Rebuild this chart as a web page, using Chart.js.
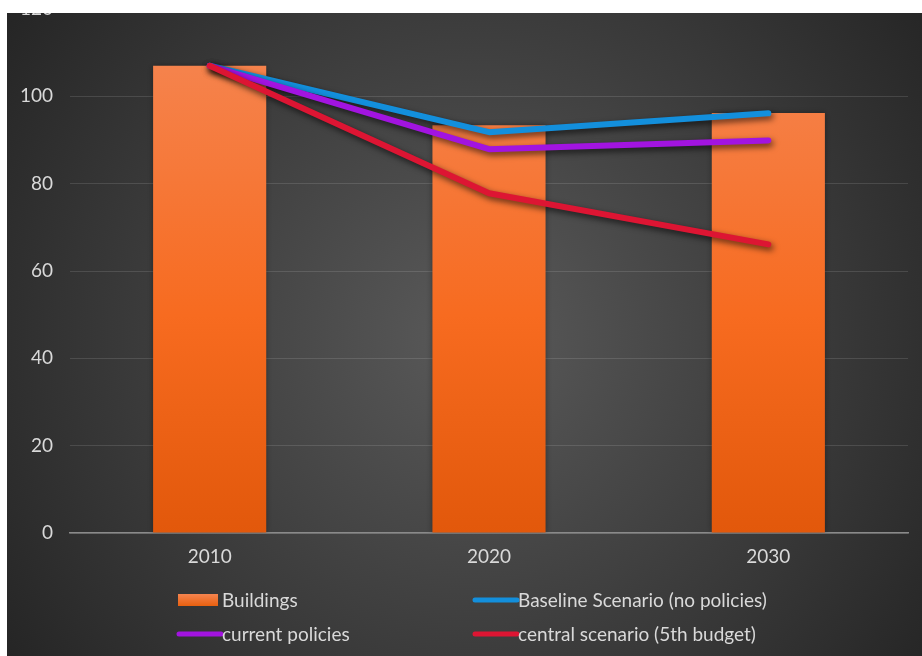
<!DOCTYPE html>
<html>
<head>
<meta charset="utf-8">
<script src="https://cdn.jsdelivr.net/npm/chart.js@4"></script>
<style>
    html, body { margin: 0; padding: 0; background: #fff; overflow: hidden; }
    #wrap { position: relative; width: 922px; height: 656px; overflow: hidden; }
    #chart { position: absolute; left: 7px; top: -27px; }
    #topband { position: absolute; left: 0; top: 0; width: 922px; height: 13px; background: #fff; }
</style>
</head>
<body>
<div id="wrap">
    <canvas id="chart" width="915" height="683"></canvas>
    <div id="topband"></div>
</div>
<script>
const years = ["2010", "2020", "2030"]
const buildings = [107, 93.4, 96.2]
const baseline = [107, 91.8, 96.1]
const currentPolicies = [107, 87.9, 89.9]
const centralScenario = [107, 77.8, 66.1]

const textColor = "#d9d9d9"
const fontFamily = "Lato, 'Open Sans', sans-serif"
const fontSize = 19

function barGradient(ctx, area) {
    let g = ctx.createLinearGradient(0, area.top + 40, 0, area.bottom)
    g.addColorStop(0, "#f5844f")
    g.addColorStop(0.55, "#f76b20")
    g.addColorStop(1, "#e2580b")
    return g
}

// dark radial backdrop behind everything
const backdrop = {
    id: "backdrop",
    beforeDraw(chart) {
        const ctx = chart.ctx
        const w = chart.width, h = chart.height
        let g = ctx.createRadialGradient(w * 0.51, h * 0.53, 0, w * 0.51, h * 0.53, w * 0.62)
        g.addColorStop(0, "#5a5a5a")
        g.addColorStop(1, "#252525")
        ctx.save()
        ctx.fillStyle = g
        ctx.fillRect(0, 0, w, h)
        ctx.restore()
    }
}

// soft drop shadow under the scenario lines
const lineShadow = {
    id: "lineShadow",
    beforeDatasetDraw(chart, args) {
        const ctx = chart.ctx
        ctx.save()
        if (args.meta.type === "line") {
            ctx.shadowColor = "rgba(0,0,0,0.65)"
            ctx.shadowBlur = 6
            ctx.shadowOffsetX = 2
            ctx.shadowOffsetY = 3
        } else {
            ctx.shadowColor = "rgba(0,0,0,0.35)"
            ctx.shadowBlur = 6
        }
    },
    afterDatasetDraw(chart) {
        chart.ctx.restore()
    }
}

// two-column legend under the axis
const gridLegend = {
    id: "gridLegend",
    afterDraw(chart) {
        const ctx = chart.ctx
        const cols = [170, 466]
        const rows = [627, 661]
        ctx.save()
        ctx.font = fontSize + "px " + fontFamily
        ctx.textBaseline = "middle"
        chart.data.datasets.forEach((ds, i) => {
            const x = cols[i % 2]
            const y = rows[Math.floor(i / 2)]
            if (ds.type === "bar") {
                let g = ctx.createLinearGradient(0, y - 6, 0, y + 6)
                g.addColorStop(0, "#f5844f")
                g.addColorStop(1, "#e8600f")
                ctx.fillStyle = g
                ctx.fillRect(x + 1, y - 6, 40, 12)
            } else {
                ctx.strokeStyle = ds.borderColor
                ctx.lineWidth = 5
                ctx.lineCap = "round"
                ctx.beginPath()
                ctx.moveTo(x + 2, y)
                ctx.lineTo(x + 44, y)
                ctx.stroke()
            }
            ctx.fillStyle = textColor
            ctx.fillText(ds.label, x + 45, y + 1)
        })
        ctx.restore()
    }
}

new Chart("chart", {
    data: {
        labels: years,
        datasets: [{
            type: "bar",
            label: "Buildings",
            data: buildings,
            order: 10,
            backgroundColor: (c) => c.chart.chartArea ? barGradient(c.chart.ctx, c.chart.chartArea) : "#f47030",
            categoryPercentage: 1,
            barPercentage: 0.405,
        }, {
            type: "line",
            label: "Baseline Scenario (no policies)",
            data: baseline,
            order: 3,
            borderColor: "#138fdc",
        }, {
            type: "line",
            label: "current policies",
            data: currentPolicies,
            order: 2,
            borderColor: "#a214e0",
        }, {
            type: "line",
            label: "central scenario (5th budget)",
            data: centralScenario,
            order: 1,
            borderColor: "#dd1533",
        }]
    },
    options: {
        responsive: false,
        animation: false,
        layout: {
            padding: { top: 36, right: 14, left: 0, bottom: 0 },
        },
        elements: {
            line: {
                borderWidth: 6,
                borderCapStyle: "round",
                borderJoinStyle: "round",
                tension: 0,
            },
            point: { radius: 0, hoverRadius: 0 },
        },
        plugins: {
            legend: { display: false },
            tooltip: { enabled: false },
        },
        scales: {
            x: {
                z: 1,
                grid: { display: false, drawTicks: false },
                border: { color: "#8a8a8a", width: 1.5 },
                ticks: {
                    color: textColor,
                    padding: 12,
                    font: { family: fontFamily, size: fontSize },
                },
                afterFit(scale) { scale.height = 123 },
            },
            y: {
                min: 0,
                max: 120,
                grid: { color: "rgba(255,255,255,0.12)", drawTicks: false },
                border: { display: false },
                ticks: {
                    stepSize: 20,
                    color: textColor,
                    padding: 17,
                    font: { family: fontFamily, size: fontSize },
                },
                afterFit(scale) { scale.width = 63 },
            },
        },
    },
    plugins: [backdrop, lineShadow, gridLegend],
})
</script>
</body>
</html>
